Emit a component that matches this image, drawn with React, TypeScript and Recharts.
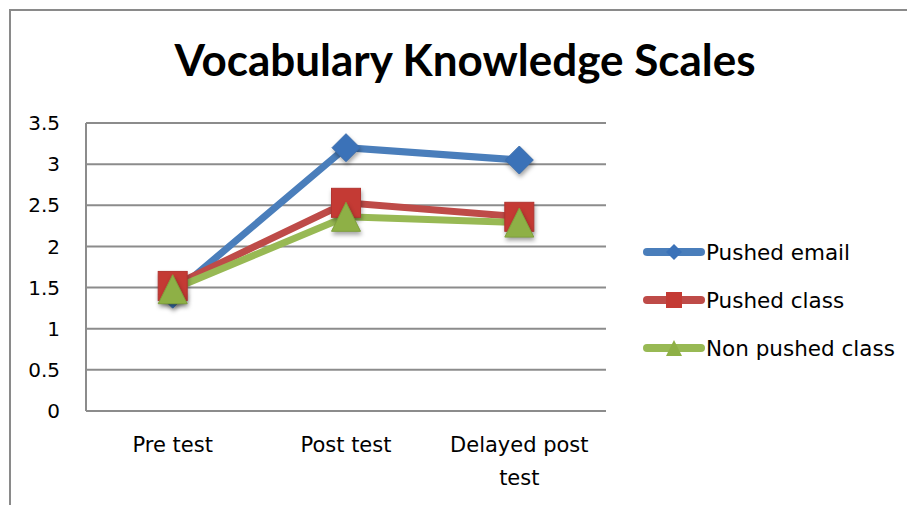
import React from 'react';
import { LineChart, Line, XAxis, YAxis, CartesianGrid } from 'recharts';

const categories = ['Pre test', 'Post test', 'Delayed post test'];
const pushedEmail = [1.42, 3.2, 3.05];
const pushedClass = [1.52, 2.53, 2.36];
const nonPushedClass = [1.48, 2.36, 2.29];
const yTicks = [0, 0.5, 1, 1.5, 2, 2.5, 3, 3.5];
const seriesNames = ['Pushed email', 'Pushed class', 'Non pushed class'];

const data = categories.map((c, i) => ({
  name: c,
  email: pushedEmail[i],
  cls: pushedClass[i],
  non: nonPushedClass[i],
}));

const FONT = 'Lato, "Open Sans", sans-serif';
const TFONT = '"DejaVu Sans", sans-serif';
const BLUE = '#4A7EBB';
const RED = '#BE4B48';
const GREEN = '#98B954';
const BLUE_M = '#3B72B8';
const RED_M = '#C43A34';
const GREEN_M = '#8EB046';
const shadow = { filter: 'drop-shadow(1px 3px 2px rgba(0,0,0,0.35))' };

const Diamond = (props: any) => {
  const { cx, cy } = props;
  if (cx == null || cy == null) return null;
  const r = 14;
  return (
    <path
      style={shadow}
      d={`M${cx},${cy - r} L${cx + r},${cy} L${cx},${cy + r} L${cx - r},${cy} Z`}
      fill={BLUE_M}
      stroke="#3A6DAD"
      strokeWidth={1}
    />
  );
};

const Square = (props: any) => {
  const { cx, cy } = props;
  if (cx == null || cy == null) return null;
  const r = 14.5;
  return (
    <rect style={shadow} x={cx - r} y={cy - r} width={2 * r} height={2 * r} fill={RED_M} stroke="#B23430" strokeWidth={1} />
  );
};

const Triangle = (props: any) => {
  const { cx, cy } = props;
  if (cx == null || cy == null) return null;
  const w = 14.5;
  const h = 14.5;
  return (
    <path
      style={shadow}
      d={`M${cx},${cy - h} L${cx + w},${cy + h} L${cx - w},${cy + h} Z`}
      fill={GREEN_M}
      stroke="#7FA03C"
      strokeWidth={1}
    />
  );
};

const XTick = (props: any) => {
  const { x, y, payload } = props;
  const label: string = payload.value;
  let lines = [label];
  if (label.length > 12) {
    const idx = label.lastIndexOf(' ');
    lines = [label.slice(0, idx), label.slice(idx + 1)];
  }
  return (
    <text x={x} y={y} textAnchor="middle" fontSize={21} fontFamily={TFONT} fill="#000">
      {lines.map((l, i) => (
        <tspan key={i} x={x} dy={i === 0 ? 41 : 33}>
          {l}
        </tspan>
      ))}
    </text>
  );
};

const legendColors = [BLUE, RED, GREEN];
const legendMarkerColors = [BLUE_M, RED_M, GREEN_M];

const LegendBox = () => (
  <div style={{ position: 'absolute', left: 642, top: 228 }}>
    {seriesNames.map((n, i) => (
      <div key={n} style={{ display: 'flex', alignItems: 'center', height: 48 }}>
        <svg width={64} height={24} style={{ display: 'block' }}>
          <line x1={5} y1={12} x2={59} y2={12} stroke={legendColors[i]} strokeWidth={8} strokeLinecap="round" />
          {i === 0 && <path d="M32,4 L40,12 L32,20 L24,12 Z" fill={legendMarkerColors[i]} />}
          {i === 1 && <rect x={24} y={4} width={16} height={16} fill={legendMarkerColors[i]} />}
          {i === 2 && <path d="M32,4 L40,20 L24,20 Z" fill={legendMarkerColors[i]} />}
        </svg>
        <span style={{ fontFamily: TFONT, fontSize: 21.5, color: '#000', whiteSpace: 'nowrap', marginLeft: 0 }}>{n}</span>
      </div>
    ))}
  </div>
);

export default function App() {
  return (
    <div style={{ position: 'fixed', left: 0, top: 0, width: 907, height: 505, overflow: 'hidden', background: '#fff' }}>
      <div
        style={{
          position: 'absolute',
          left: 9,
          top: 9,
          width: 1200,
          height: 1200,
          borderLeft: '2px solid #8A8A8A',
          borderTop: '2px solid #8A8A8A',
        }}
      />
      <svg width={907} height={100} style={{ position: 'absolute', left: 0, top: 0 }}>
        <text x={465} y={76} textAnchor="middle" fontSize={44} fontWeight="bold" fontFamily={FONT} fill="#000">
          Vocabulary Knowledge Scales
        </text>
      </svg>
      <div style={{ position: 'absolute', left: 0, top: 0 }}>
        <LineChart width={907} height={505} data={data} margin={{ top: 123, right: 301, bottom: 0, left: 26 }}>
          <CartesianGrid vertical={false} stroke="#8C8C8C" strokeWidth={2} />
          <XAxis
            dataKey="name"
            tick={<XTick />}
            tickLine={false}
            tickSize={0}
            tickMargin={0}
            axisLine={{ stroke: '#8C8C8C', strokeWidth: 2 }}
            interval={0}
            height={94}
            padding={{ left: 86.7, right: 86.7 }}
          />
          <YAxis
            domain={[0, 3.5]}
            ticks={yTicks}
            width={60}
            tickLine={false}
            tickSize={0}
            tickMargin={26}
            axisLine={{ stroke: '#8C8C8C', strokeWidth: 2 }}
            tick={{ fontSize: 20, fontFamily: TFONT, fill: '#000' }}
            interval={0}
          />
          <Line
            dataKey="email"
            name={seriesNames[0]}
            stroke={BLUE}
            strokeWidth={7}
            dot={<Diamond />}
            activeDot={false}
            isAnimationActive={false}
          />
          <Line
            dataKey="cls"
            name={seriesNames[1]}
            stroke={RED}
            strokeWidth={7}
            dot={<Square />}
            activeDot={false}
            isAnimationActive={false}
          />
          <Line
            dataKey="non"
            name={seriesNames[2]}
            stroke={GREEN}
            strokeWidth={7}
            dot={<Triangle />}
            activeDot={false}
            isAnimationActive={false}
          />
        </LineChart>
      </div>
      <LegendBox />
    </div>
  );
}
